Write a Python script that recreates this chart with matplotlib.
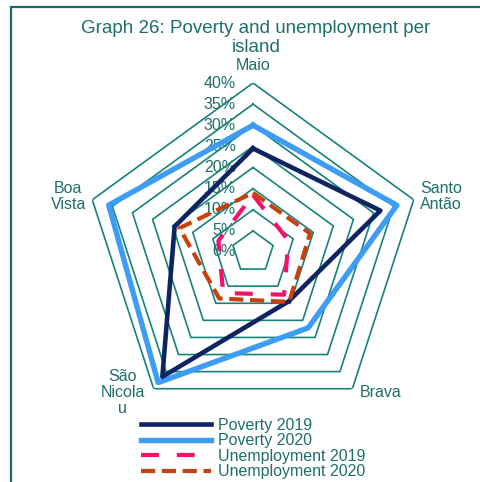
import numpy as np
import matplotlib
matplotlib.use("Agg")
import matplotlib.pyplot as plt
from matplotlib.patches import Rectangle

plt.rcParams['font.family'] = ['Liberation Sans', 'DejaVu Sans']

# islands, clockwise from the top
islands = ["Maio", "Santo\nAntão", "Brava", "São\nNicola\nu", "Boa\nVista"]

poverty_2019 = [24.5, 31.7, 14.4, 36.5, 19.5]
poverty_2020 = [30.0, 35.8, 22.2, 38.2, 35.9]
unemployment_2019 = [13.5, 8.8, 12.5, 12.0, 8.6]
unemployment_2020 = [14.0, 14.2, 14.6, 13.6, 18.3]

ticks = [0, 5, 10, 15, 20, 25, 30, 35, 40]
tick_labels = ["0%", "5%", "10%", "15%", "20%", "25%", "30%", "35%", "40%"]

teal = "#16827b"
text_teal = "#1d6e6c"

W, H = 480, 482
fig = plt.figure(figsize=(W / 100, H / 100), dpi=100)

# outer frame around the graph
fig.patches.append(Rectangle((11 / W, -0.05), 1.0, 1 - 7 / H + 0.05,
                             transform=fig.transFigure, fill=False,
                             edgecolor="#17696a", lw=1.6))

cx, cy, R = 253, 252, 169
ax = fig.add_axes([(cx - R) / W, (H - cy - R) / H, 2 * R / W, 2 * R / H],
                  projection="polar")
ax.set_theta_zero_location("N")
ax.set_theta_direction(-1)
ax.set_ylim(0, 40)
ax.grid(False)
ax.set_xticks([])
ax.set_yticks([])
ax.spines["polar"].set_visible(False)
ax.patch.set_alpha(0)

angles = np.linspace(0, 2 * np.pi, len(islands), endpoint=False)
closed = np.append(angles, angles[0])

def ring(vals):
    return np.append(vals, vals[0])

# pentagonal gridlines
for t in ticks[1:]:
    ax.plot(closed, [t] * len(closed), color=teal, lw=1.2, zorder=1)

ax.plot(closed, ring(poverty_2019), color="#0c2461", lw=3.3,
        label="Poverty 2019", zorder=3)
ax.plot(closed, ring(poverty_2020), color="#3d9cf5", lw=3.9,
        label="Poverty 2020", zorder=2)
ax.plot(closed, ring(unemployment_2019), color="#f5106a", lw=3.0,
        dashes=(4.3, 4.3), label="Unemployment 2019", zorder=4)
ax.plot(closed, ring(unemployment_2020), color="#c8400a", lw=3.0,
        dashes=(3.4, 1.6), label="Unemployment 2020", zorder=4)

# radial tick labels on the Maio axis
for t, lab in zip(ticks, tick_labels):
    ax.annotate(lab, xy=(0, t), xytext=(-17, 0), textcoords="offset pixels",
                ha="right", va="center", fontsize=11.5, color=text_teal,
                annotation_clip=False, zorder=0)

# island labels next to the outer vertices
offsets = [(0, 17), (27, 3), (28, -4), (-31, -4), (-24, 3)]
for a, name, off in zip(angles, islands, offsets):
    ax.annotate(name, xy=(a, 40), xytext=off, textcoords="offset pixels",
                ha="center", va="center", fontsize=11.5, color=text_teal,
                linespacing=1.1, annotation_clip=False)

fig.text(256 / W, 1 - 38 / H, "Graph 26: Poverty and unemployment per\nisland",
         ha="center", va="center", fontsize=13.5, color=text_teal,
         linespacing=1.2)

leg = fig.legend(loc="upper left", bbox_to_anchor=(141 / W, 1 - 418 / H),
                 frameon=False, fontsize=11.5, handlelength=4.4,
                 handletextpad=0.4, labelspacing=0.03, borderpad=0,
                 borderaxespad=0)
for txt in leg.get_texts():
    txt.set_color(text_teal)

fig.savefig("out.png", dpi=100)
